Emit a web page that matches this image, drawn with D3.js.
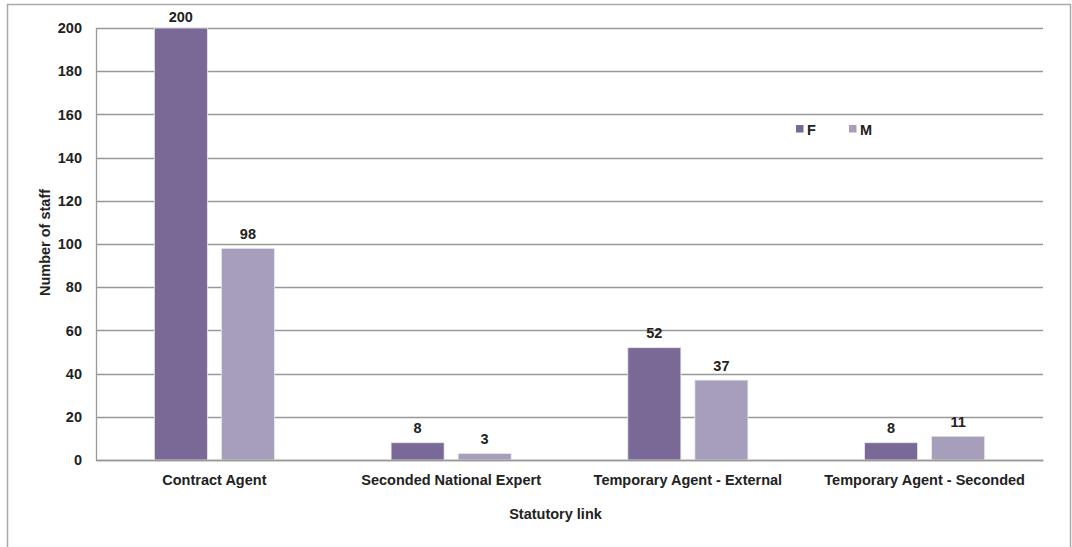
<!DOCTYPE html>
<html><head><meta charset="utf-8">
<script src="https://cdn.jsdelivr.net/npm/d3@7"></script>
<style>body{margin:0;background:#fff}svg{display:block}text{font-family:"Liberation Sans",Arial,sans-serif;font-weight:bold;fill:#222}</style>
</head><body><svg id="c" width="1072" height="547"></svg>
<script>
const categories = ["Contract Agent","Seconded National Expert","Temporary Agent - External","Temporary Agent - Seconded"];
const seriesNames = ["F","M"];
const valuesF = [200, 8, 52, 8];
const valuesM = [98, 3, 37, 11];
const yTicks = [0,20,40,60,80,100,120,140,160,180,200];
const colors = ["#7a6996","#a69ebb"];

const svg = d3.select("#c");
const m = {l:96, r:1043, t:28, b:460};
const FS = "14.5px";
svg.append("rect").attr("x",7.5).attr("y",4.5).attr("width",1063).attr("height",560)
  .attr("fill","none").attr("stroke","#aaa").attr("stroke-width",1.5);

const x = d3.scaleBand().domain(categories).range([m.l,m.r]);
const xs = d3.scaleBand().domain(seriesNames).range([0,x.bandwidth()]).paddingInner(0.209).paddingOuter(0.87);
const y = d3.scaleLinear().domain([0,200]).range([m.b,m.t]);

// gridlines
svg.append("g").selectAll("line").data(yTicks).join("line")
  .attr("x1",m.l).attr("x2",m.r).attr("y1",d=>Math.round(y(d))+0.5).attr("y2",d=>Math.round(y(d))+0.5)
  .attr("stroke","#999").attr("stroke-width",1.3);

const yAxis = svg.append("g").attr("transform",`translate(${m.l},0)`)
  .call(d3.axisLeft(y).tickValues(yTicks).tickSize(0).tickPadding(14));
yAxis.select(".domain").attr("stroke","#999").attr("stroke-width",1.3);
yAxis.selectAll("text").style("font-size",FS).attr("fill","#222");

const series = [valuesF, valuesM];
series.forEach((vals,si)=>{
  const g = svg.append("g");
  g.selectAll("rect").data(vals).join("rect")
    .attr("x",(d,i)=>x(categories[i])+xs(seriesNames[si]))
    .attr("width",xs.bandwidth())
    .attr("y",d=>y(d)).attr("height",d=>y(0)-y(d))
    .attr("fill",colors[si]).attr("stroke","#ebe8f0").attr("stroke-width",0.8);
  g.selectAll("text").data(vals).join("text")
    .attr("x",(d,i)=>x(categories[i])+xs(seriesNames[si])+xs.bandwidth()/2)
    .attr("y",d=>Math.max(y(d)-9.5,22)).attr("text-anchor","middle").style("font-size",FS).text(d=>d);
});

const xAxis = svg.append("g").attr("transform",`translate(0,${m.b})`)
  .call(d3.axisBottom(x).tickSize(0).tickPadding(15));
xAxis.select(".domain").attr("stroke","#999").attr("stroke-width",1.3);
xAxis.selectAll("text").style("font-size",FS).attr("fill","#222");

svg.append("text").attr("x",555.5).attr("y",519).attr("text-anchor","middle").style("font-size","14.5px").text("Statutory link");
svg.append("text").attr("transform","translate(49.5,242.5) rotate(-90)").attr("text-anchor","middle").style("font-size","14.5px").text("Number of staff");

// legend
const lg = svg.append("g");
seriesNames.forEach((s,i)=>{
  const lx = 796 + i*53;
  lg.append("rect").attr("x",lx).attr("y",125).attr("width",7.5).attr("height",7.5).attr("fill",colors[i]);
  lg.append("text").attr("x",lx+11).attr("y",135).style("font-size",FS).text(s);
});
</script></body></html>
